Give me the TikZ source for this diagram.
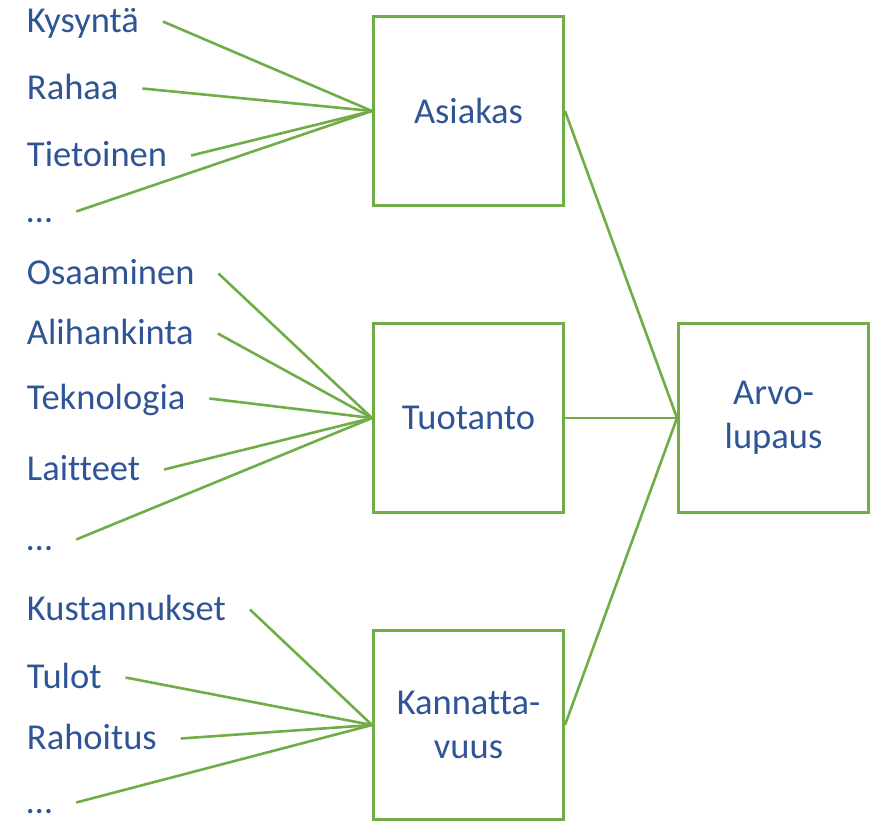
\documentclass[tikz,border=0pt]{standalone}
\usepackage{fontspec}
\setmainfont{Carlito}[Ligatures=NoCommon]
\definecolor{sininen}{HTML}{2F5597}
\definecolor{vihrea}{HTML}{70AD47}

\begin{document}
\begin{tikzpicture}[x=1pt, y=-1pt,
  sana/.style={anchor=base west, text=sininen, font=\fontsize{36.5}{44}\selectfont,
    inner xsep=0pt, inner ysep=0pt, outer xsep=24pt, outer ysep=0pt,
    text height=28pt, text depth=7pt},
  laatikko/.style={draw=vihrea, line width=3pt, minimum width=190pt, minimum height=189pt,
    text=sininen, align=center, font=\fontsize{36.5}{44}\selectfont, inner sep=0pt},
  yhteys/.style={draw=vihrea, line width=2.6pt}]

\useasboundingbox (0,0) rectangle (877,820);

\node[laatikko] (asiakas)  at (468.5, 111) {Asiakas};
\node[laatikko] (tuotanto) at (468.5, 418) {Tuotanto};
\node[laatikko] (kannatt)  at (468.5, 725) {Kannatta-\\vuus};
\node[laatikko] (arvo)     at (773.5, 418) {Arvo-\\lupaus};

\node[sana] (kysynta)   at (  3,  32) {Kysyntä};
\node[sana] (rahaa)     at (  3,  99) {Rahaa};
\node[sana] (tietoinen) at (  3, 166) {Tietoinen};
\node[sana] (muuta1)    at (  3, 222) {…};

\node[sana] (osaaminen) at (  3, 284) {Osaaminen};
\node[sana] (alihank)   at (  3, 344) {Alihankinta};
\node[sana] (teknol)    at (  3, 409) {Teknologia};
\node[sana] (laitteet)  at (  3, 480) {Laitteet};
\node[sana] (muuta2)    at (  3, 550) {…};

\node[sana] (kustann)   at (  3, 620) {Kustannukset};
\node[sana] (tulot)     at (  3, 688) {Tulot};
\node[sana] (rahoitus)  at (  3, 749) {Rahoitus};
\node[sana] (muuta3)    at (  3, 813) {…};

\draw[yhteys] (kysynta.east)   -- (asiakas.west);
\draw[yhteys] (rahaa.east)     -- (asiakas.west);
\draw[yhteys] (tietoinen.east) -- (asiakas.west);
\draw[yhteys] (muuta1.east)    -- (asiakas.west);

\draw[yhteys] (osaaminen.east) -- (tuotanto.west);
\draw[yhteys] (alihank.east)   -- (tuotanto.west);
\draw[yhteys] (teknol.east)    -- (tuotanto.west);
\draw[yhteys] (laitteet.east)  -- (tuotanto.west);
\draw[yhteys] (muuta2.east)    -- (tuotanto.west);

\draw[yhteys] (kustann.east)   -- (kannatt.west);
\draw[yhteys] (tulot.east)     -- (kannatt.west);
\draw[yhteys] (rahoitus.east)  -- (kannatt.west);
\draw[yhteys] (muuta3.east)    -- (kannatt.west);

\draw[yhteys] (asiakas.east)  -- (arvo.west);
\draw[yhteys] (tuotanto.east) -- (arvo.west);
\draw[yhteys] (kannatt.east)  -- (arvo.west);

\end{tikzpicture}
\end{document}
